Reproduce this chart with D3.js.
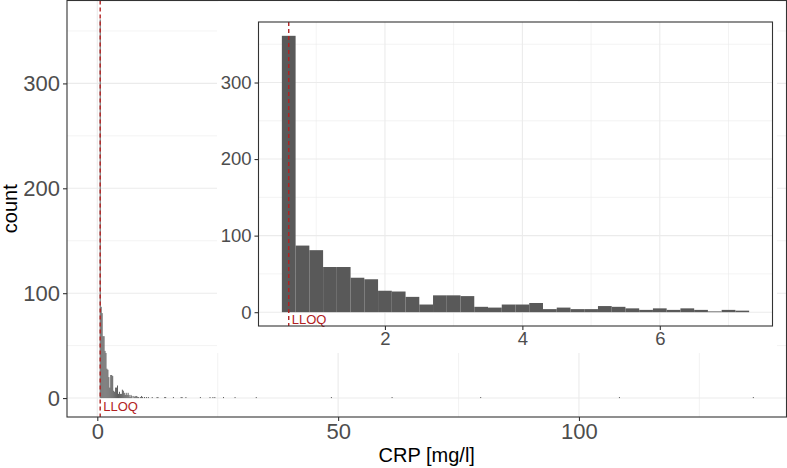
<!DOCTYPE html>
<html>
<head>
<meta charset="utf-8">
<script src="https://cdn.jsdelivr.net/npm/d3@7"></script>
<style>
  body { margin: 0; background: #fff; }
  text { font-family: "Liberation Sans", Arial, sans-serif; }
</style>
</head>
<body>
<div id="chart"></div>
<script>
// CRP histogram, binwidth 0.2, first bin starts at 0.5
const binWidth = 0.2;
const firstBin = 0.5;
const lloq = 0.6;

// counts for bins 0.5 .. 7.3 (shown in the inset)
const headCounts = [361, 87, 81, 59, 59, 45, 43, 28, 27, 20, 10, 22, 22, 21, 7, 6, 10, 10,
                    12, 4, 6, 4, 4, 8, 7, 5, 3, 5, 3, 5, 3, 1, 3, 2];

// sparse tail beyond 7.3 (bin start, count)
const tailStarts = [7.5, 7.7, 7.9, 8.1, 8.3, 8.5, 8.9, 9.1, 9.3, 9.7, 10.1, 10.5, 11.3, 12.3, 12.5,
                    13.9, 14.1, 15.7, 17.3, 17.5, 18.3, 21.3, 23.3, 23.9, 24.3, 26.1, 28.5, 32.9,
                    48.5, 61.1, 79.5, 108.3, 136.1];
const tailCounts = [2, 1, 2, 2, 1, 1, 1, 2, 1, 1, 1, 1, 1, 1, 1,
                    1, 1, 1, 1, 1, 1, 1, 1, 1, 1, 1, 1, 1,
                    1, 1, 1, 1, 1];

const mainXTicks = [0, 50, 100];
const mainXMinor = [25, 75, 125];
const insetXTicks = [2, 4, 6];
const insetXMinor = [1, 3, 5, 7];
const yTicks = [0, 100, 200, 300];
const yMinor = [50, 150, 250, 350];

const width = 787, height = 468;
const barColor = "#595959";
const lloqColor = "#b22222";
const gridColor = "#ebebeb";

const headBins = headCounts.map((c, i) => ({x0: firstBin + i * binWidth, count: c}));
const tailBins = tailStarts.map((s, i) => ({x0: s, count: tailCounts[i]}));
const allBins = headBins.concat(tailBins);

const maxCount = d3.max(allBins, d => d.count);
const yDom = [-0.05 * maxCount, maxCount * 1.05];

function expand(lo, hi) {
  const pad = (hi - lo) * 0.05;
  return [lo - pad, hi + pad];
}

const svg = d3.select("#chart").append("svg")
    .attr("width", width)
    .attr("height", height);

svg.append("rect").attr("width", width).attr("height", height).attr("fill", "#fff");

function drawPanel(g, opts) {
  const {x, y, bins, xTicks, xMinor, fontSize, clipId} = opts;
  const [x0, x1] = x.range();
  const [y0, y1] = y.range();

  g.append("rect")
      .attr("x", x0).attr("y", y1)
      .attr("width", x1 - x0).attr("height", y0 - y1)
      .attr("fill", "#fff");

  g.append("clipPath").attr("id", clipId)
    .append("rect")
      .attr("x", x0).attr("y", y1)
      .attr("width", x1 - x0).attr("height", y0 - y1);

  const grid = g.append("g").attr("clip-path", `url(#${clipId})`);
  grid.selectAll(".vminor").data(xMinor).join("line")
      .attr("x1", d => x(d)).attr("x2", d => x(d))
      .attr("y1", y1).attr("y2", y0)
      .attr("stroke", gridColor).attr("stroke-width", 0.6);
  grid.selectAll(".hminor").data(yMinor).join("line")
      .attr("y1", d => y(d)).attr("y2", d => y(d))
      .attr("x1", x0).attr("x2", x1)
      .attr("stroke", gridColor).attr("stroke-width", 0.6);
  grid.selectAll(".vmajor").data(xTicks).join("line")
      .attr("x1", d => x(d)).attr("x2", d => x(d))
      .attr("y1", y1).attr("y2", y0)
      .attr("stroke", gridColor).attr("stroke-width", 1.1);
  grid.selectAll(".hmajor").data(yTicks).join("line")
      .attr("y1", d => y(d)).attr("y2", d => y(d))
      .attr("x1", x0).attr("x2", x1)
      .attr("stroke", gridColor).attr("stroke-width", 1.1);

  grid.selectAll(".bar").data(bins).join("rect")
      .attr("x", d => x(d.x0))
      .attr("width", d => x(d.x0 + binWidth) - x(d.x0))
      .attr("y", d => y(d.count))
      .attr("height", d => y(0) - y(d.count))
      .attr("fill", barColor);

  grid.append("line")
      .attr("x1", x(lloq)).attr("x2", x(lloq))
      .attr("y1", y1).attr("y2", y0)
      .attr("stroke", lloqColor)
      .attr("stroke-width", 1.4)
      .attr("stroke-dasharray", "4,3");

  g.append("text")
      .attr("x", x(lloq) + 3)
      .attr("y", y(0) + opts.lloqDy)
      .attr("fill", lloqColor)
      .attr("font-size", 13)
      .text("LLOQ");

  g.append("rect")
      .attr("x", x0).attr("y", y1)
      .attr("width", x1 - x0).attr("height", y0 - y1)
      .attr("fill", "none")
      .attr("stroke", "#333").attr("stroke-width", 1.1);

  const xa = g.append("g")
      .attr("transform", `translate(0,${y0})`)
      .call(d3.axisBottom(x).tickValues(xTicks).tickSize(4).tickPadding(2));
  const ya = g.append("g")
      .attr("transform", `translate(${x0},0)`)
      .call(d3.axisLeft(y).tickValues(yTicks).tickSize(4).tickPadding(3));
  for (const a of [xa, ya]) {
    a.select(".domain").remove();
    a.selectAll(".tick line").attr("stroke", "#333").attr("stroke-width", 1.1);
    a.selectAll(".tick text")
        .attr("fill", "#4d4d4d")
        .attr("font-size", fontSize)
        .style("font-family", "'Liberation Sans', Arial, sans-serif");
  }
}

// main panel
const mainX = d3.scaleLinear()
    .domain(expand(firstBin, d3.max(allBins, d => d.x0) + binWidth))
    .range([67, 786.5]);
const mainY = d3.scaleLinear().domain(yDom).range([417, 0.5]);

drawPanel(svg.append("g"), {
  x: mainX, y: mainY, bins: allBins,
  xTicks: mainXTicks, xMinor: mainXMinor,
  fontSize: 22, clipId: "clipMain", lloqDy: 13
});

svg.append("text")
    .attr("x", (67 + 786.5) / 2)
    .attr("y", 462)
    .attr("text-anchor", "middle")
    .attr("font-size", 20)
    .attr("fill", "#000")
    .text("CRP [mg/l]");

svg.append("text")
    .attr("transform", `translate(17,${(417 + 0.5) / 2}) rotate(-90)`)
    .attr("text-anchor", "middle")
    .attr("font-size", 20)
    .attr("fill", "#000")
    .text("count");

// inset
const inset = svg.append("g");
inset.append("rect")
    .attr("x", 217).attr("y", 1.5)
    .attr("width", 777 - 217).attr("height", 353 - 1.5)
    .attr("fill", "#fff");

const insetX = d3.scaleLinear()
    .domain(expand(firstBin, firstBin + headCounts.length * binWidth))
    .range([258.5, 772.5]);
const insetY = d3.scaleLinear().domain(yDom).range([326, 22]);

drawPanel(inset, {
  x: insetX, y: insetY, bins: headBins,
  xTicks: insetXTicks, xMinor: insetXMinor,
  fontSize: 18.5, clipId: "clipInset", lloqDy: 12
});
</script>
</body>
</html>
